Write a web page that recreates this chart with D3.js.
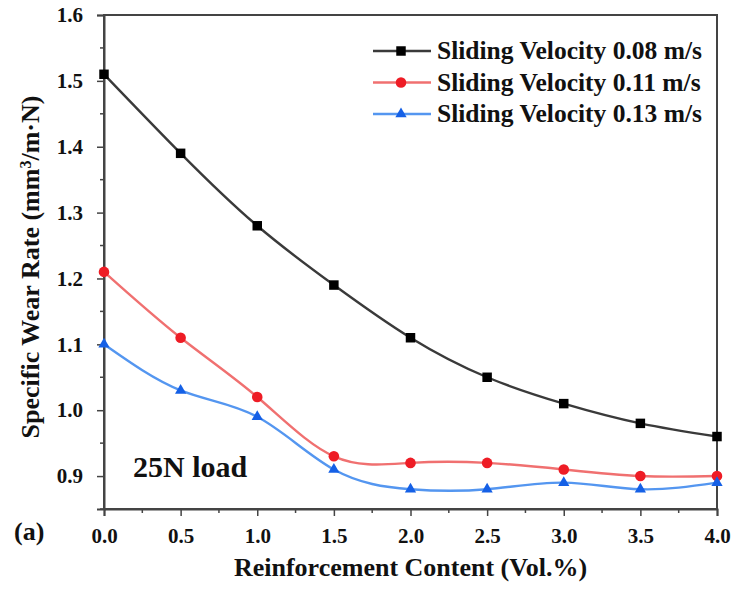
<!DOCTYPE html>
<html>
<head>
<meta charset="utf-8">
<script src="https://cdn.jsdelivr.net/npm/d3@7"></script>
<style>
  html, body { margin: 0; padding: 0; background: #fff; }
  svg { display: block; }
  text { font-family: "Liberation Serif", "Times New Roman", serif; font-weight: bold; fill: #111; }
</style>
</head>
<body>
<svg id="chart" width="734" height="590"></svg>
<script>
// Reinforcement content (vol.%)
const content = [0.0, 0.5, 1.0, 1.5, 2.0, 2.5, 3.0, 3.5, 4.0];
// Specific wear rate (mm^3/m·N) at 25 N load for each sliding velocity
const wear008 = [1.51, 1.39, 1.28, 1.19, 1.11, 1.05, 1.01, 0.98, 0.96];
const wear011 = [1.21, 1.11, 1.02, 0.93, 0.92, 0.92, 0.91, 0.90, 0.90];
const wear013 = [1.10, 1.03, 0.99, 0.91, 0.88, 0.88, 0.89, 0.88, 0.89];
const seriesNames = ["Sliding Velocity 0.08 m/s", "Sliding Velocity 0.11 m/s", "Sliding Velocity 0.13 m/s"];
const xTicks = [0.0, 0.5, 1.0, 1.5, 2.0, 2.5, 3.0, 3.5, 4.0];
const yTicks = [0.9, 1.0, 1.1, 1.2, 1.3, 1.4, 1.5, 1.6];

const series = [
  { name: seriesNames[0], values: wear008, line: "#3a3a3a", mark: "#000000", symbol: d3.symbolSquare, size: 90 },
  { name: seriesNames[1], values: wear011, line: "#f07070", mark: "#ee1c25", symbol: d3.symbolCircle, size: 88 },
  { name: seriesNames[2], values: wear013, line: "#5496f0", mark: "#1560e6", symbol: d3.symbolTriangle, size: 55 }
];

const svg = d3.select("#chart");
const plot = { left: 104, right: 717, top: 15, bottom: 509 };

const x = d3.scaleLinear().domain([0, 4]).range([plot.left, plot.right]);
const y = d3.scaleLinear().domain([0.85, 1.6]).range([plot.bottom, plot.top]);

// Frame
svg.append("rect")
  .attr("x", plot.left).attr("y", plot.top)
  .attr("width", plot.right - plot.left).attr("height", plot.bottom - plot.top)
  .attr("fill", "none").attr("stroke", "#444").attr("stroke-width", 2);

// Minor ticks
const xMinor = d3.range(0.25, 4, 0.5);
const yMinor = d3.range(0.85, 1.6, 0.1).map(v => +v.toFixed(2));
svg.append("g").selectAll("line").data(xMinor).join("line")
  .attr("x1", d => x(d)).attr("x2", d => x(d))
  .attr("y1", plot.bottom).attr("y2", plot.bottom + 4)
  .attr("stroke", "#444").attr("stroke-width", 1.5);
svg.append("g").selectAll("line").data(yMinor).join("line")
  .attr("y1", d => y(d)).attr("y2", d => y(d))
  .attr("x1", plot.left).attr("x2", plot.left - 4)
  .attr("stroke", "#444").attr("stroke-width", 1.5);

// Axes
const xAxis = svg.append("g")
  .attr("transform", `translate(0,${plot.bottom})`)
  .call(d3.axisBottom(x).tickValues(xTicks).tickFormat(d3.format(".1f")).tickSize(7).tickPadding(12));
const yAxis = svg.append("g")
  .attr("transform", `translate(${plot.left},0)`)
  .call(d3.axisLeft(y).tickValues(yTicks).tickFormat(d3.format(".1f")).tickSize(7).tickPadding(14));
[xAxis, yAxis].forEach(g => {
  g.select(".domain").attr("stroke", "#444").attr("stroke-width", 2);
  g.selectAll(".tick line").attr("stroke", "#444").attr("stroke-width", 1.5);
  g.selectAll(".tick text")
    .attr("font-family", '"Liberation Serif", "Times New Roman", serif')
    .attr("font-weight", "bold").attr("font-size", 21).attr("fill", "#222");
});

// Curves
const line = d3.line()
  .x((d, i) => x(content[i]))
  .y(d => y(d))
  .curve(d3.curveNatural);

series.forEach(s => {
  svg.append("path")
    .datum(s.values)
    .attr("d", line)
    .attr("fill", "none")
    .attr("stroke", s.line)
    .attr("stroke-width", 2.4);
  svg.append("g").selectAll("path").data(s.values).join("path")
    .attr("transform", (d, i) => `translate(${x(content[i])},${y(d)})`)
    .attr("d", d3.symbol().type(s.symbol).size(s.size))
    .attr("fill", s.mark);
});

// Legend
const legend = svg.append("g");
series.forEach((s, i) => {
  const ly = 51 + i * 31.5;
  legend.append("line")
    .attr("x1", 373).attr("x2", 431).attr("y1", ly).attr("y2", ly)
    .attr("stroke", s.line).attr("stroke-width", 2.4);
  legend.append("path")
    .attr("transform", `translate(401,${ly})`)
    .attr("d", d3.symbol().type(s.symbol).size(s.size))
    .attr("fill", s.mark);
  legend.append("text")
    .attr("x", 437).attr("y", ly + 8)
    .attr("font-size", 25.5)
    .text(s.name);
});

// Annotation
svg.append("text")
  .attr("x", 133).attr("y", 477)
  .attr("font-size", 30)
  .text("25N load");

// Panel label
svg.append("text")
  .attr("x", 14).attr("y", 540)
  .attr("font-size", 26)
  .text("(a)");

// Axis titles
svg.append("text")
  .attr("x", (plot.left + plot.right) / 2).attr("y", 576)
  .attr("text-anchor", "middle")
  .attr("font-size", 26)
  .text("Reinforcement Content (Vol.%)");

const yTitle = svg.append("text")
  .attr("transform", `translate(39,267) rotate(-90)`)
  .attr("text-anchor", "middle")
  .attr("font-size", 26);
yTitle.append("tspan").text("Specific Wear Rate (mm");
yTitle.append("tspan").attr("baseline-shift", "super").attr("font-size", 16).text("3");
yTitle.append("tspan").text("/m·N)");
</script>
</body>
</html>
